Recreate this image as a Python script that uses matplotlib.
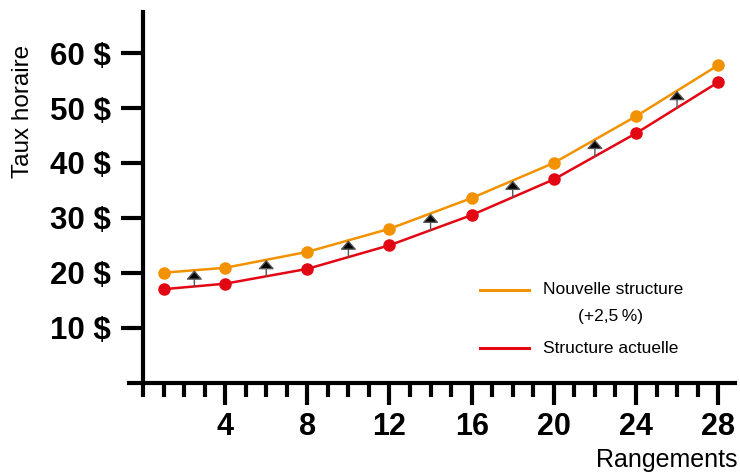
import numpy as np
import matplotlib
matplotlib.use("Agg")
import matplotlib.pyplot as plt
from matplotlib.lines import Line2D

plt.rcParams['font.family'] = ['Liberation Sans', 'DejaVu Sans']

# ---- data ----
rangements = [1, 4, 8, 12, 16, 20, 24, 28]
structure_actuelle = [17.0, 18.0, 20.7, 25.0, 30.5, 37.0, 45.4, 54.7]
nouvelle_structure = [20.0, 20.9, 23.8, 28.0, 33.6, 40.0, 48.5, 57.8]
y_ticks = [10, 20, 30, 40, 50, 60]
y_tick_labels = ["10 $", "20 $", "30 $", "40 $", "50 $", "60 $"]
x_major = [4, 8, 12, 16, 20, 24, 28]
x_major_labels = ["4", "8", "12", "16", "20", "24", "28"]
x_minor = list(range(0, 29))
label_new = "Nouvelle structure"
label_new2 = "(+2,5\u2009%)"
label_cur = "Structure actuelle"

ORANGE = "#F39200"
RED = "#E30613"

W, H = 740, 473
fig = plt.figure(figsize=(W / 100, H / 100), dpi=100)
x0_px, unit_px = 143.0, 20.54
xlim = (-0.7, 28.8)
left_px = x0_px + xlim[0] * unit_px
right_px = x0_px + xlim[1] * unit_px
bottom_px, top_px = 382.5, 12.0
ax = fig.add_axes([left_px / W, (H - bottom_px) / H,
                   (right_px - left_px) / W, (bottom_px - top_px) / H])
ax.set_xlim(*xlim)
ax.set_ylim(0, 67.5)

for s in ["top", "right"]:
    ax.spines[s].set_visible(False)
ax.spines["left"].set_position(("data", 0))
ax.spines["left"].set_linewidth(3)
ax.spines["bottom"].set_linewidth(3)

ax.set_yticks(y_ticks)
ax.set_yticklabels(y_tick_labels, fontsize=22.5, fontweight="bold")
ax.tick_params(axis="y", direction="out", length=16, width=3, pad=7)

ax.set_xticks(x_major)
ax.set_xticklabels(x_major_labels, fontsize=22, fontweight="bold")
ax.set_xticks(x_minor, minor=True)
ax.tick_params(axis="x", which="major", direction="out", length=16, width=3, pad=5)
ax.tick_params(axis="x", which="minor", direction="out", length=10, width=3)

# series
ax.plot(rangements, nouvelle_structure, color=ORANGE, lw=1.8, marker="o",
        markersize=8, zorder=3, clip_on=False)
ax.plot(rangements, structure_actuelle, color=RED, lw=1.8, marker="o",
        markersize=8, zorder=3, clip_on=False)

# arrows between the curves at midpoints
xs = np.array(rangements, dtype=float)
arrow_x = (xs[:-1] + xs[1:]) / 2
arrow_lo = np.interp(arrow_x, xs, structure_actuelle)
arrow_hi = np.interp(arrow_x, xs, nouvelle_structure)
for ax_, lo, hi in zip(arrow_x, arrow_lo, arrow_hi):
    ax.annotate("", xy=(ax_, hi), xytext=(ax_, lo),
                arrowprops=dict(arrowstyle="-|>,head_length=0.4,head_width=0.35",
                                fc="black", ec="#555555", lw=1.0,
                                shrinkA=0, shrinkB=0, mutation_scale=14),
                zorder=4)

# legend (manual)
def fx(px):
    return px / W

def fy(py):
    return (H - py) / H

fig.add_artist(Line2D([fx(480), fx(529)], [fy(290), fy(290)], color=ORANGE, lw=2.2))
fig.add_artist(Line2D([fx(480), fx(529)], [fy(348), fy(348)], color=RED, lw=2.2))
fig.text(fx(543), fy(290), label_new, fontsize=12.5, ha="left", va="center")
fig.text(fx(611), fy(317), label_new2, fontsize=12.5, ha="center", va="center")
fig.text(fx(543), fy(348), label_cur, fontsize=12.5, ha="left", va="center")

# axis titles
fig.text(fx(737), fy(467), "Rangements", fontsize=18, ha="right", va="baseline")
fig.text(fx(23), fy(111), "Taux horaire", fontsize=17.5, rotation=90,
         ha="center", va="center")

fig.savefig("out.png", dpi=100)
